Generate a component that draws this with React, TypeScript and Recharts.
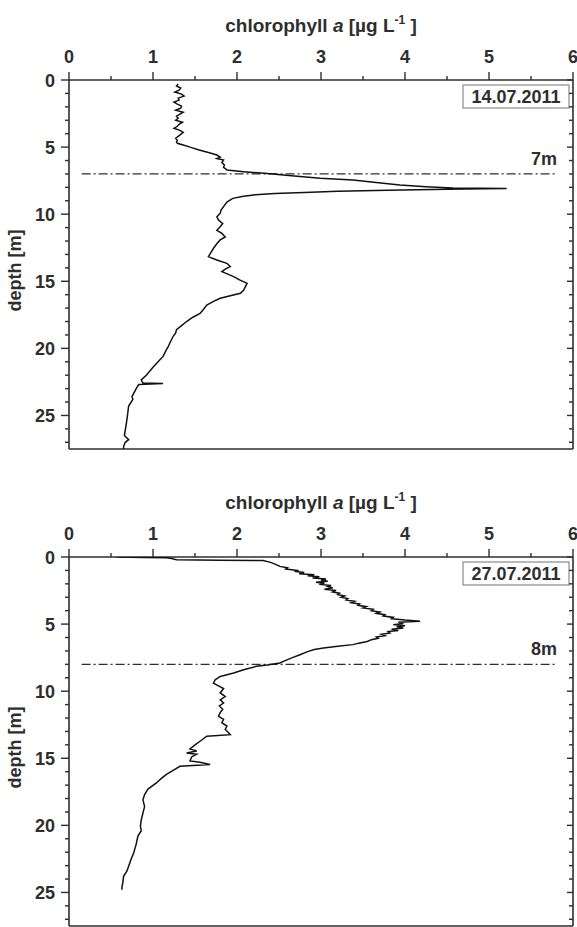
import React from "react";
import { ScatterChart, Scatter, XAxis, YAxis, ReferenceLine } from "recharts";

// chlorophyll a profile, 14.07.2011
const depth1 = [
  0.3, 0.45, 0.6, 0.75, 0.9, 1.05, 1.2, 1.35, 1.5, 1.65, 1.8, 1.95, 2.1, 2.25, 2.4, 2.55, 2.7, 2.85, 3.0, 3.15,
  3.3, 3.45, 3.6, 3.75, 3.9, 4.05, 4.2, 4.35, 4.5, 4.6, 4.72, 4.84, 5.0, 5.22, 5.4, 5.59, 5.75, 5.85, 5.96, 6.15,
  6.33, 6.5, 6.7, 6.83, 6.92, 7.0, 7.08, 7.2, 7.33, 7.45, 7.6, 7.82, 7.95, 8.05, 8.08, 8.15, 8.22, 8.3, 8.38, 8.45,
  8.55, 8.68, 8.82, 9.1, 9.44, 9.7, 9.93, 10.2, 10.43, 10.7, 10.93, 11.2, 11.43, 11.7, 11.92, 12.2, 12.54, 12.85, 13.17, 13.41,
  13.66, 13.91, 14.1, 14.28, 14.65, 14.9, 15.15, 15.4, 15.65, 15.9, 16.27, 16.5, 16.77, 17.1, 17.4, 17.7, 18.0, 18.3, 18.6, 18.85,
  19.1, 19.6, 19.9, 20.1, 20.6, 21.0, 21.4, 21.7, 22.0, 22.35, 22.58, 22.62, 22.7, 23.0, 23.35, 23.6, 23.8, 24.3, 24.8, 25.3,
  25.7, 26.1, 26.5, 26.8, 27.0, 27.3, 27.5,
];
const chl1 = [
  1.3, 1.28, 1.33, 1.31, 1.26, 1.34, 1.37, 1.3, 1.31, 1.25, 1.29, 1.34, 1.33, 1.27, 1.36, 1.32, 1.28, 1.3, 1.27, 1.35,
  1.31, 1.29, 1.25, 1.32, 1.36, 1.33, 1.3, 1.27, 1.29, 1.28, 1.29, 1.36, 1.44, 1.55, 1.66, 1.76, 1.8, 1.76, 1.84, 1.82,
  1.85, 1.84, 1.88, 2.08, 2.25, 2.43, 2.55, 2.75, 2.99, 3.38, 3.6, 3.94, 4.25, 4.57, 5.21, 4.5, 3.8, 3.2, 2.8, 2.45,
  2.22, 2.06, 1.95, 1.88, 1.84, 1.81, 1.8, 1.76, 1.78, 1.83, 1.8, 1.76, 1.82, 1.86, 1.8, 1.76, 1.72, 1.69, 1.66, 1.76,
  1.88, 1.92, 1.86, 1.82, 1.96, 2.03, 2.12, 2.1, 2.08, 2.04, 1.8, 1.72, 1.64, 1.6, 1.56, 1.47, 1.4, 1.34, 1.28, 1.27,
  1.24, 1.2, 1.18, 1.16, 1.12, 1.06, 1.0, 0.96, 0.92, 0.86, 0.88, 1.12, 0.83, 0.8, 0.77, 0.75, 0.76, 0.71, 0.7, 0.69,
  0.68, 0.67, 0.66, 0.71, 0.67, 0.65, 0.65,
];

// chlorophyll a profile, 27.07.2011
const depth2 = [
  0.0, 0.03, 0.06, 0.12, 0.2, 0.24, 0.27, 0.4, 0.55, 0.7, 0.8, 0.9, 1.0, 1.08, 1.16, 1.24, 1.32, 1.4, 1.48, 1.56,
  1.64, 1.72, 1.8, 1.88, 1.96, 2.04, 2.12, 2.2, 2.3, 2.4, 2.5, 2.6, 2.7, 2.8, 2.9, 3.0, 3.1, 3.2, 3.3, 3.4,
  3.5, 3.6, 3.7, 3.8, 3.9, 4.0, 4.1, 4.2, 4.3, 4.4, 4.5, 4.6, 4.7, 4.78, 4.86, 4.95, 5.04, 5.12, 5.2, 5.29,
  5.38, 5.47, 5.56, 5.66, 5.76, 5.86, 5.96, 6.06, 6.16, 6.3, 6.42, 6.53, 6.65, 6.78, 6.9, 7.05, 7.28, 7.5, 7.7, 7.9,
  8.05, 8.15, 8.4, 8.65, 8.9, 9.15, 9.4, 9.6, 9.8, 10.13, 10.4, 10.65, 10.88, 11.1, 11.35, 11.6, 11.87, 12.1, 12.35, 12.6,
  12.85, 13.1, 13.24, 13.36, 13.73, 14.0, 14.3, 14.45, 14.6, 14.7, 14.9, 15.2, 15.3, 15.47, 15.6, 15.9, 16.2, 16.5, 16.84, 17.3,
  17.7, 18.1, 18.6, 19.08, 19.6, 20.07, 20.4, 20.8, 21.4, 22.06, 22.5, 23.05, 23.4, 23.8, 24.3, 24.6, 24.8,
];
const chl2 = [
  0.57, 0.9, 1.16, 1.22, 1.28, 1.8, 2.31, 2.4, 2.46, 2.51, 2.6, 2.58, 2.72, 2.7, 2.8, 2.74, 2.92, 2.84, 2.98, 2.9,
  3.06, 3.0, 3.08, 2.94, 3.04, 2.98, 3.12, 3.08, 3.14, 3.04, 3.18, 3.14, 3.22, 3.2, 3.28, 3.24, 3.32, 3.3, 3.4, 3.36,
  3.46, 3.44, 3.54, 3.5, 3.62, 3.6, 3.7, 3.66, 3.76, 3.74, 3.86, 3.84, 4.0, 4.18, 3.92, 3.98, 3.86, 4.0, 3.9, 3.98,
  3.84, 3.92, 3.8, 3.82, 3.72, 3.76, 3.66, 3.68, 3.6, 3.55, 3.45, 3.38, 3.2, 3.03, 2.92, 2.84, 2.75, 2.66, 2.58, 2.51,
  2.36, 2.23, 2.08, 1.96, 1.8, 1.74, 1.72, 1.78, 1.84, 1.8, 1.86, 1.8, 1.84, 1.79, 1.83, 1.8, 1.78, 1.84, 1.82, 1.88,
  1.86, 1.9, 1.92, 1.64, 1.56, 1.5, 1.44, 1.52, 1.4, 1.52, 1.46, 1.44, 1.56, 1.68, 1.32, 1.24, 1.16, 1.1, 1.04, 0.94,
  0.9, 0.88, 0.9, 0.88, 0.86, 0.85, 0.86, 0.82, 0.8, 0.77, 0.74, 0.71, 0.69, 0.65, 0.64, 0.63, 0.63,
];

const chlTicks = [0, 0.5, 1, 1.5, 2, 2.5, 3, 3.5, 4, 4.5, 5, 5.5, 6];
const depthTicks = [
  0, 1, 2, 3, 4, 5, 6, 7, 8, 9, 10, 11, 12, 13, 14, 15, 16, 17, 18, 19, 20, 21, 22, 23, 24, 25, 26, 27,
];

const INK = "#2e2e2e";
const FONT = "'Liberation Sans', Arial, sans-serif";

const TopTick = ({ x, y, payload }: any) => {
  const major = payload.value % 1 === 0;
  return (
    <g>
      <line x1={x} x2={x} y1={y} y2={y - (major ? 8 : 4)} stroke={INK} strokeWidth={1.4} />
      {major && (
        <text x={x} y={y - 17} textAnchor="middle" fontSize={18} fontWeight="bold" fontFamily={FONT} fill={INK}>
          {payload.value}
        </text>
      )}
    </g>
  );
};

const BottomTick = ({ x, y, payload }: any) => {
  const major = payload.value % 1 === 0;
  return <line x1={x} x2={x} y1={y} y2={y - (major ? 6 : 4)} stroke={INK} strokeWidth={1.4} />;
};

const LeftTick = ({ x, y, payload }: any) => {
  const major = payload.value % 5 === 0;
  return (
    <g>
      <line x1={x} x2={x - (major ? 8 : 4)} y1={y} y2={y} stroke={INK} strokeWidth={1.4} />
      {major && (
        <text x={x - 14} y={y + 6.5} textAnchor="end" fontSize={18} fontWeight="bold" fontFamily={FONT} fill={INK}>
          {payload.value}
        </text>
      )}
    </g>
  );
};

const RightTick = ({ x, y, payload }: any) => {
  const major = payload.value % 5 === 0;
  return <line x1={x} x2={x - (major ? 6 : 4)} y1={y} y2={y} stroke={INK} strokeWidth={1.4} />;
};

const ChlTitle = ({ viewBox }: any) => (
  <text
    x={viewBox.x + viewBox.width / 2}
    y={32}
    textAnchor="middle"
    fontSize={19}
    fontWeight="bold"
    fontFamily={FONT}
    fill={INK}
  >
    chlorophyll <tspan fontStyle="italic">a</tspan> [µg L
    <tspan dy={-8} fontSize={12}>-1</tspan>
    <tspan dy={8}> ]</tspan>
  </text>
);

const DepthTitle = ({ viewBox }: any) => {
  const cy = viewBox.y + viewBox.height / 2 + 6;
  return (
    <text
      x={15}
      y={cy}
      transform={`rotate(-90 15 ${cy})`}
      textAnchor="middle"
      dominantBaseline="central"
      fontSize={18}
      fontWeight="bold"
      fontFamily={FONT}
      fill={INK}
    >
      depth [m]
    </text>
  );
};

const DateBox = ({ viewBox, date }: any) => {
  const right = viewBox.x - 4;
  const top = viewBox.y + 5;
  return (
    <g>
      <rect x={right - 106} y={top} width={106} height={23} fill="#fff" stroke="#8a8a8a" strokeWidth={1.2} />
      <text
        x={right - 53}
        y={top + 18}
        textAnchor="middle"
        fontSize={18}
        fontWeight="bold"
        fontFamily={FONT}
        fill={INK}
      >
        {date}
      </text>
    </g>
  );
};

const MixLabel = ({ viewBox, text }: any) => (
  <text
    x={viewBox.x + viewBox.width}
    y={viewBox.y - 9}
    textAnchor="end"
    fontSize={18}
    fontWeight="bold"
    fontFamily={FONT}
    fill={INK}
  >
    {text}
  </text>
);

function Profile({ depths, values, date, mld, top }: any) {
  const rows = depths.map((d: number, i: number) => ({ depth: d, chl: values[i] }));
  return (
    <div style={{ position: "absolute", left: 0, top }}>
      <ScatterChart width={577} height={460} margin={{ top: 0, right: 0, bottom: 0, left: 0 }}>
        <XAxis
          xAxisId="top"
          orientation="top"
          type="number"
          dataKey="chl"
          domain={[0, 6]}
          ticks={chlTicks}
          interval={0}
          height={80}
          tickSize={0}
          tickMargin={0}
          tickLine={false}
          axisLine={{ stroke: INK, strokeWidth: 1.6 }}
          tick={(p: any) => <TopTick {...p} />}
          label={{ content: (p: any) => <ChlTitle {...p} /> }}
          allowDataOverflow
        />
        <XAxis
          xAxisId="bottom"
          orientation="bottom"
          type="number"
          domain={[0, 6]}
          ticks={chlTicks}
          interval={0}
          height={11}
          tickSize={0}
          tickMargin={0}
          tickLine={false}
          axisLine={{ stroke: INK, strokeWidth: 1.6 }}
          tick={(p: any) => <BottomTick {...p} />}
          allowDataOverflow
        />
        <YAxis
          yAxisId="left"
          orientation="left"
          type="number"
          dataKey="depth"
          domain={[0, 27.5]}
          reversed
          ticks={depthTicks}
          interval={0}
          width={69}
          tickSize={0}
          tickMargin={0}
          tickLine={false}
          axisLine={{ stroke: INK, strokeWidth: 1.6 }}
          tick={(p: any) => <LeftTick {...p} />}
          label={{ content: (p: any) => <DepthTitle {...p} /> }}
          allowDataOverflow
        />
        <YAxis
          yAxisId="right"
          orientation="right"
          type="number"
          domain={[0, 27.5]}
          reversed
          ticks={depthTicks}
          interval={0}
          width={4}
          tickSize={0}
          tickMargin={0}
          tickLine={false}
          axisLine={{ stroke: INK, strokeWidth: 1.6 }}
          tick={(p: any) => <RightTick {...p} />}
          label={{ content: (p: any) => <DateBox {...p} date={date} /> }}
          allowDataOverflow
        />
        <ReferenceLine
          xAxisId="top"
          yAxisId="left"
          segment={[
            { x: 0.15, y: mld },
            { x: 5.81, y: mld },
          ]}
          stroke={INK}
          strokeWidth={1.3}
          strokeDasharray="9 3 2 3"
          label={{ content: (p: any) => <MixLabel {...p} text={`${mld}m`} /> }}
        />
        <Scatter
          xAxisId="top"
          yAxisId="left"
          data={rows}
          line={{ stroke: "#111", strokeWidth: 1.5 }}
          lineJointType="linear"
          shape={() => <g />}
          isAnimationActive={false}
        />
      </ScatterChart>
    </div>
  );
}

export default function App() {
  return (
    <div style={{ position: "absolute", left: 0, top: 0, width: 577, height: 927, overflow: "hidden", background: "#fff" }}>
      <Profile depths={depth1} values={chl1} date="14.07.2011" mld={7} top={0} />
      <Profile depths={depth2} values={chl2} date="27.07.2011" mld={8} top={477} />
    </div>
  );
}
